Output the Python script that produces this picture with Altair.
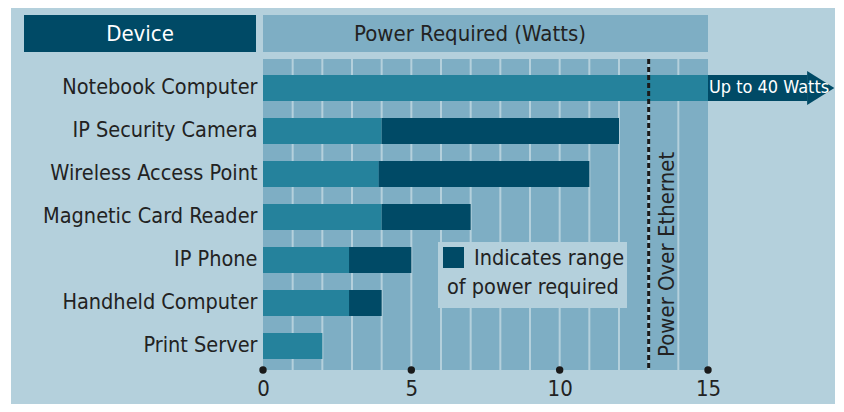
import altair as alt
import pandas as pd

# ---- data ----
devices = ["Notebook Computer", "IP Security Camera", "Wireless Access Point",
           "Magnetic Card Reader", "IP Phone", "Handheld Computer", "Print Server"]
min_watts = [15, 4, 3.9, 4, 2.9, 2.9, 2]
max_watts = [15, 12, 11, 7, 5, 4, 2]
x_ticks = [0, 5, 10, 15]
stripe_positions = list(range(1, 15))
poe_limit = [13]
arrow_device = ["Notebook Computer"]
arrow_text = ["Up to 40 Watts"]
poe_text = ["Power Over Ethernet"]
header_left = ["Device"]
header_right = ["Power Required (Watts)"]
legend_lines = ["Indicates range", "of power required"]

FONT = "DejaVu Sans Condensed, Liberation Sans, sans-serif"
PANEL = "#b4d0dc"
PLOTBG = "#7eaec4"
DARK = "#004a66"
TEAL = "#25829c"
INK = "#222222"
FS = 21.5

W, H = 445, 311

df = pd.DataFrame({"device": devices, "lo": min_watts, "hi": max_watts,
                   "zero": [0] * len(devices)})
one = pd.DataFrame({"k": [0]})

ysc = alt.Scale(domain=devices, range=[7.5, 308.5], paddingInner=0.395, paddingOuter=0.1975)
xsc = alt.Scale(domain=[0, 15], nice=False, zero=True)

Y = alt.Y("device:N", sort=devices, scale=ysc,
          axis=alt.Axis(title=None, ticks=False, domain=False, labelFontSize=FS,
                        labelColor=INK, labelPadding=6, labelFont=FONT, zindex=1,
                        labelLimit=300))
X = alt.X("zero:Q", scale=xsc,
          axis=alt.Axis(title=None, values=x_ticks, ticks=False, domain=False, grid=False,
                        labelFontSize=22, labelColor=INK, labelPadding=8,
                        labelFont=FONT, zindex=1, labelFlush=False))

base1 = alt.Chart(one)

panel = base1.mark_rect(color=PANEL).encode(
    x=alt.value(-252), x2=alt.value(600), y=alt.value(-60), y2=alt.value(360))

hdr_l = base1.mark_rect(color=DARK).encode(
    x=alt.value(-239), x2=alt.value(-7), y=alt.value(-44), y2=alt.value(-7))
hdr_r = base1.mark_rect(color=PLOTBG).encode(
    x=alt.value(0), x2=alt.value(W), y=alt.value(-44), y2=alt.value(-7))
hdr_l_t = alt.Chart(pd.DataFrame({"t": header_left})).mark_text(
    color="white", fontSize=22, font=FONT, baseline="middle").encode(
    text="t:N", x=alt.value(-123), y=alt.value(-25))
hdr_r_t = alt.Chart(pd.DataFrame({"t": header_right})).mark_text(
    color=INK, fontSize=22, font=FONT, baseline="middle").encode(
    text="t:N", x=alt.value(207), y=alt.value(-25))

plotbg = base1.mark_rect(color=PLOTBG).encode(
    x=alt.value(0), x2=alt.value(W), y=alt.value(0), y2=alt.value(H))

stripes = alt.Chart(pd.DataFrame({"s": stripe_positions})).mark_rule(
    color=PANEL, strokeWidth=2).encode(x=alt.X("s:Q", scale=xsc))

bars_lo = alt.Chart(df).mark_bar(color=TEAL).encode(
    y=Y, x=X, x2="lo:Q")
bars_hi = alt.Chart(df).mark_bar(color=DARK).encode(
    y=Y, x=alt.X("lo:Q", scale=xsc), x2="hi:Q")

arr = pd.DataFrame({"device": arrow_device, "a0": [15], "a1": [18.35], "tip": [18.8],
                    "tx": [15.03], "t": arrow_text})
arrow_body = alt.Chart(arr).mark_bar(color=DARK).encode(
    y=alt.Y("device:N", sort=devices, scale=ysc), x=alt.X("a0:Q", scale=xsc), x2="a1:Q")
arrow_head = alt.Chart(arr).mark_point(
    shape="M -0.8,-1 L 0.8,0 L -0.8,1 Z", filled=True, opacity=1, color=DARK,
    size=1156).encode(
    y=alt.Y("device:N", sort=devices, scale=ysc), x=alt.X("tip:Q", scale=xsc))
arrow_txt = alt.Chart(arr).mark_text(
    color="white", fontSize=18, font=FONT, align="left", baseline="middle").encode(
    y=alt.Y("device:N", sort=devices, scale=ysc), x=alt.X("tx:Q", scale=xsc), text="t:N")

poe = alt.Chart(pd.DataFrame({"p": poe_limit})).mark_rule(
    color="#1a1a1a", strokeWidth=3, strokeDash=[5, 3]).encode(x=alt.X("p:Q", scale=xsc))
poe_t = alt.Chart(pd.DataFrame({"p": [13.62], "t": poe_text})).mark_text(
    angle=270, align="left", baseline="middle", fontSize=22, font=FONT, color=INK).encode(
    x=alt.X("p:Q", scale=xsc), y=alt.value(298), text="t:N")

leg_box = base1.mark_rect(color=PANEL).encode(
    x=alt.value(175), x2=alt.value(364), y=alt.value(183), y2=alt.value(249))
leg_sq = base1.mark_rect(color=DARK).encode(
    x=alt.value(180), x2=alt.value(201), y=alt.value(188), y2=alt.value(209))
leg_t1 = alt.Chart(pd.DataFrame({"t": legend_lines[:1]})).mark_text(
    align="left", baseline="middle", fontSize=FS, font=FONT, color=INK).encode(
    text="t:N", x=alt.value(211), y=alt.value(200))
leg_t2 = alt.Chart(pd.DataFrame({"t": legend_lines[1:]})).mark_text(
    align="left", baseline="middle", fontSize=FS, font=FONT, color=INK).encode(
    text="t:N", x=alt.value(184), y=alt.value(229))

dots = alt.Chart(pd.DataFrame({"v": x_ticks})).mark_point(
    shape="circle", filled=True, opacity=1, color="#1a1a1a", size=55).encode(
    x=alt.X("v:Q", scale=xsc), y=alt.value(H))

chart = alt.layer(
    panel, hdr_l, hdr_r, hdr_l_t, hdr_r_t, plotbg, stripes, bars_lo, bars_hi,
    arrow_body, arrow_head, arrow_txt, poe, poe_t, leg_box, leg_sq, leg_t1, leg_t2, dots
).properties(
    width=W, height=H,
    autosize=alt.AutoSizeParams(type="none"),
    padding={"left": 255, "top": 51, "right": 127, "bottom": 34},
    background="white",
).configure_view(stroke=None).configure(font=FONT)

chart.save("out.html", embed_options={"renderer": "svg", "actions": False})
